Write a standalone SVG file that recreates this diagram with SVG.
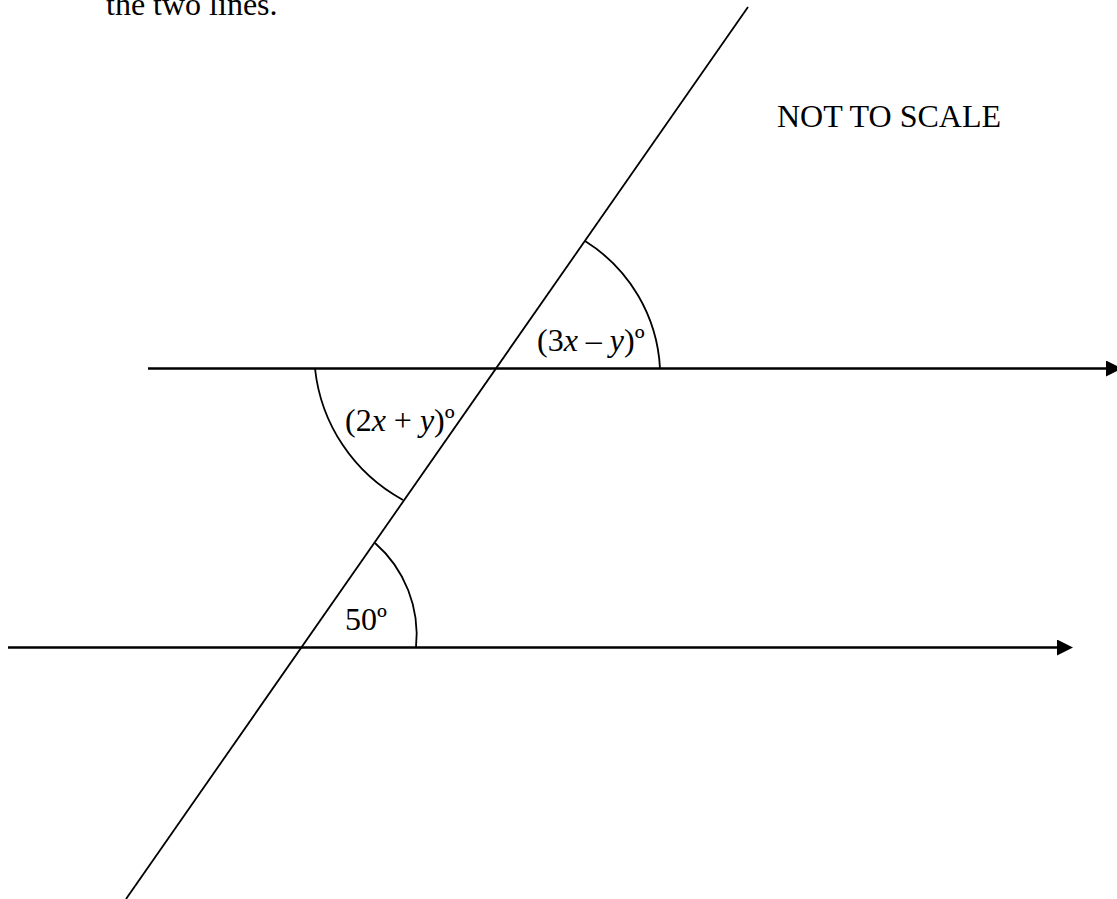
<svg xmlns="http://www.w3.org/2000/svg" width="1117" height="899" viewBox="0 0 1117 899">
<style>
  .txt { font-family: "Liberation Serif", "Times New Roman", serif; font-size: 32px; fill: #000; }
  .it { font-style: italic; }
  .hline { stroke: #000; stroke-width: 2.4; fill: none; }
  .tline { stroke: #000; stroke-width: 1.8; fill: none; }
  .arc { stroke: #000; stroke-width: 1.8; fill: none; }
</style>
<defs>
  <marker id="arrow" viewBox="0 0 16 16" markerWidth="16" markerHeight="16" markerUnits="userSpaceOnUse" refX="0" refY="8" orient="auto">
    <path d="M0,0 L16,8 L0,16 z" fill="#000"/>
  </marker>
</defs>
<rect width="1117" height="899" fill="#fff"/>
<text class="txt" x="106" y="15">the two lines.</text>
<text class="txt" x="777" y="127">NOT TO SCALE</text>
<g id="connectors">
  <line id="upper-line" class="hline" x1="148" y1="368.5" x2="1106" y2="368.5" marker-end="url(#arrow)"/>
  <line id="lower-line" class="hline" x1="8" y1="647.5" x2="1057" y2="647.5" marker-end="url(#arrow)"/>
  <line id="transversal" class="tline" x1="748" y1="7" x2="126" y2="899"/>
</g>
<g id="angle-upper">
  <path class="arc" d="M585,241 A160,160 0 0 1 660,368.5"/>
  <text class="txt" x="537" y="351">(3<tspan class="it">x</tspan> – <tspan class="it">y</tspan>)º</text>
</g>
<g id="angle-middle">
  <path class="arc" d="M315,368.5 A170,170 0 0 0 403,500"/>
  <text class="txt" x="345" y="431">(2<tspan class="it">x</tspan> + <tspan class="it">y</tspan>)º</text>
</g>
<g id="angle-lower">
  <path class="arc" d="M375,543 A122,122 0 0 1 416,647.5"/>
  <text class="txt" x="345" y="630">50º</text>
</g>
</svg>
